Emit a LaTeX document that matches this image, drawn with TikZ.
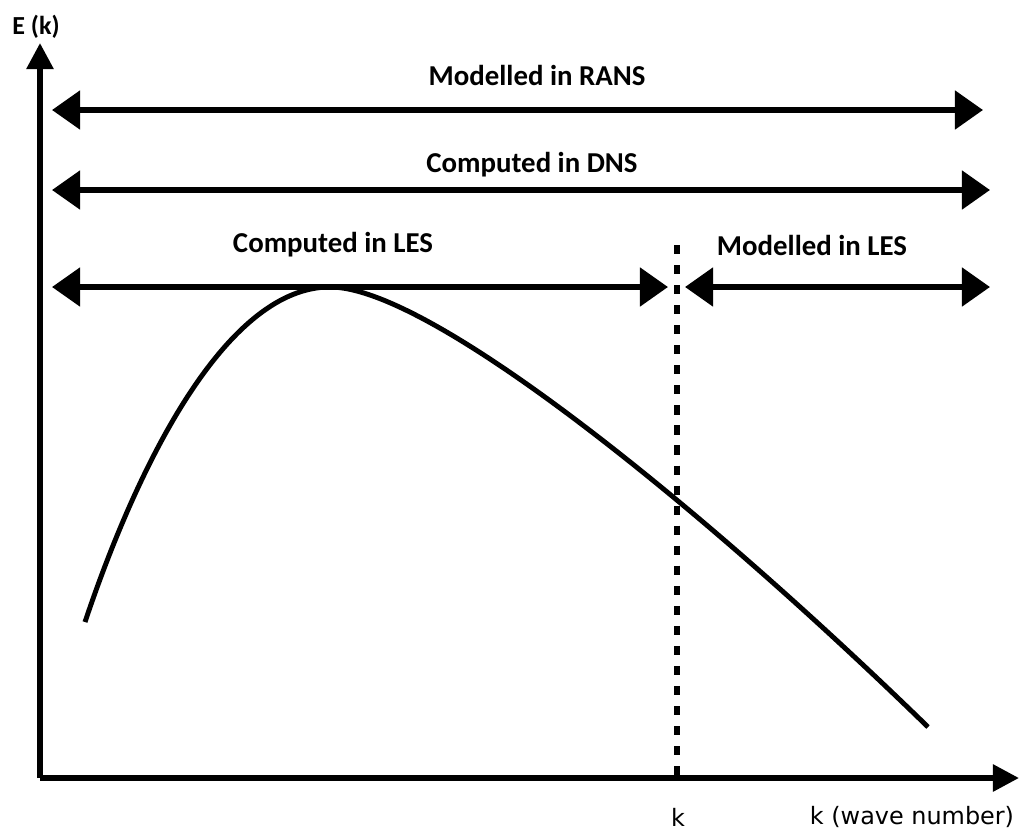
\documentclass[tikz,border=0pt]{standalone}
\usepackage{fontspec}
\setmainfont{Carlito}
\newfontfamily\axisfont{DejaVu Sans}
\usepackage{tikz}
\usetikzlibrary{arrows.meta}

\begin{document}
\begin{tikzpicture}[x=0.01cm,y=-0.01cm,
  spanarrow/.style={line width=1.6pt,{Triangle[length=8pt,width=10.8pt]}-{Triangle[length=8pt,width=10.8pt]}},
  axisline/.style={line width=1.6pt,-{Triangle[length=7.4pt,width=7.4pt]}},
  lbl/.style={font=\fontsize{8.2}{10}\selectfont\bfseries},
  xlbl/.style={font=\axisfont\fontsize{6.8}{8}\selectfont}]
\useasboundingbox (0,0) rectangle (1021,830);
% axes
\coordinate (o) at (40,778);
\coordinate (ytop) at (40,43);
\coordinate (xend) at (1019,778);
\draw [axisline] (o) -- (ytop);
\draw [axisline] (o) -- (xend);
\node [lbl, font=\fontsize{7.4}{9}\selectfont\bfseries] (ek) at (36,27) {E (k)};
\node [xlbl] (kc) at (678,817) {k};
\node [xlbl] (kw) at (912,817) {k (wave number)};
% ranges
\coordinate (ransL) at (52,110);
\coordinate (ransR) at (983,110);
\coordinate (dnsL) at (52,190);
\coordinate (dnsR) at (990,190);
\coordinate (lesL) at (52,287);
\coordinate (lesM) at (668,287);
\coordinate (sgsM) at (685,287);
\coordinate (sgsR) at (990,287);
\draw [spanarrow] (ransL) -- (ransR);
\draw [spanarrow] (dnsL) -- (dnsR);
\draw [spanarrow] (lesL) -- (lesM);
\draw [spanarrow] (sgsM) -- (sgsR);
\node [lbl] (rans) at (537,75) {Modelled in RANS};
\node [lbl] (dns) at (532,165) {Computed in DNS};
\node [lbl] (les) at (333,245) {Computed in LES};
\node [lbl] (sgs) at (812,245) {Modelled in LES};
% cut-off
\coordinate (cutT) at (677,245);
\coordinate (cutB) at (677,778);
\draw [line width=1.5pt, dash pattern=on 2.6pt off 3.1pt] (cutT) -- (cutB);
% spectrum
\coordinate (s0) at (85,622);
\coordinate (peak) at (330,287);
\coordinate (s1) at (928,727);
\draw [line width=1.4pt] (s0) .. controls (142,452) and (230,287) .. (peak)
  .. controls (430,287) and (700,505) .. (s1);
\end{tikzpicture}
\end{document}
